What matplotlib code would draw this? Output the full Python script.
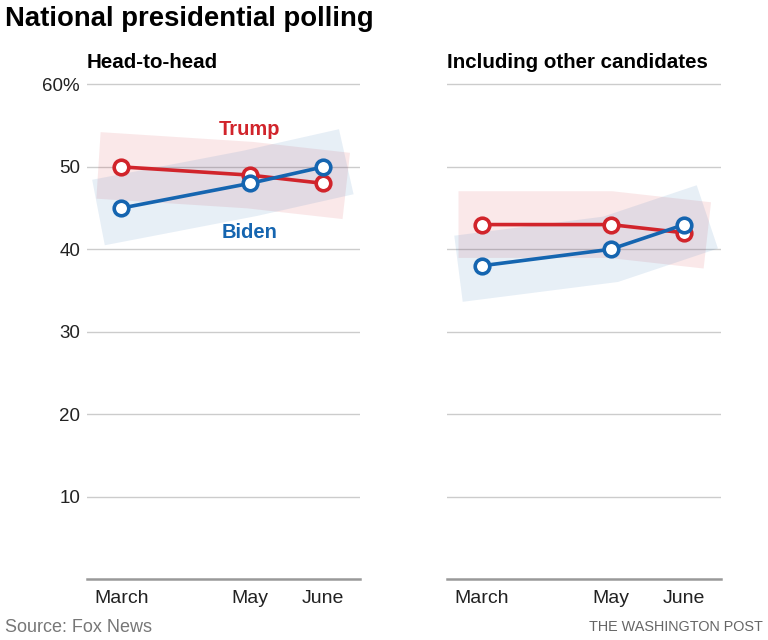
import numpy as np
import matplotlib.pyplot as plt

plt.rcParams['font.family'] = ['Liberation Sans', 'DejaVu Sans']

# poll dates as day of year (mid March, mid May, mid June)
days = [80, 136, 168]
months = ['March', 'May', 'June']

h2h_trump = [50, 49, 48]
h2h_biden = [45, 48, 50]
multi_trump = [43, 43, 42]
multi_biden = [38, 40, 43]

red = '#d1242b'
blue = '#1565b0'

fig = plt.figure(figsize=(7.68, 6.4), dpi=100)
ax1 = fig.add_axes([0.1133, 0.0953, 0.3555, 0.7766])
ax2 = fig.add_axes([0.582, 0.0953, 0.357, 0.7766])


def band(ax, x, y, color):
    # one translucent stroke following the series, a bit past both ends
    x = np.array(x, dtype=float)
    y = np.array(y, dtype=float)
    k0 = 10.0 / (x[1] - x[0])
    k1 = 10.0 / (x[-1] - x[-2])
    xs = np.concatenate([[x[0] - (x[1] - x[0]) * k0], x, [x[-1] + (x[-1] - x[-2]) * k1]])
    ys = np.concatenate([[y[0] - (y[1] - y[0]) * k0], y, [y[-1] + (y[-1] - y[-2]) * k1]])
    ax.plot(xs, ys, color=color, lw=48, alpha=0.1,
            solid_capstyle='butt', solid_joinstyle='miter', zorder=1)


def panel(ax, trump, biden, title):
    band(ax, days, trump, red)
    band(ax, days, biden, blue)
    for vals, c in [(trump, red), (biden, blue)]:
        ax.plot(days, vals, color=c, lw=2.6, marker='o', ms=10.5,
                mfc='white', mec=c, mew=2.6, zorder=3)
    ax.set_xlim(65, 184)
    ax.set_ylim(0, 60.3)
    ax.set_yticks([10, 20, 30, 40, 50, 60])
    ax.yaxis.grid(True, color='#cccccc', lw=1)
    ax.set_axisbelow(True)
    for s in ['top', 'right', 'left']:
        ax.spines[s].set_visible(False)
    ax.spines['bottom'].set_color('#999999')
    ax.spines['bottom'].set_linewidth(1.8)
    ax.set_xticks(days)
    ax.set_xticklabels(months, fontsize=14)
    ax.tick_params(axis='x', length=0, pad=8, colors='#222222')
    ax.tick_params(axis='y', length=0)
    ax.set_title(title, loc='left', fontsize=14.8, fontweight='bold', pad=10)
    ax.patch.set_alpha(0)


panel(ax1, h2h_trump, h2h_biden, 'Head-to-head')
panel(ax2, multi_trump, multi_biden, 'Including other candidates')

ax1.set_yticklabels(['10', '20', '30', '40', '50', '60%'], fontsize=13.5,
                    color='#222222')
ax1.tick_params(axis='y', pad=5)
ax2.set_yticklabels([])

ax1.text(days[1], 54.5, 'Trump', color=red, fontsize=14.5, fontweight='bold',
         ha='center', va='center')
ax1.text(days[1], 42.0, 'Biden', color=blue, fontsize=14.5, fontweight='bold',
         ha='center', va='center')

fig.text(0.007, 0.97, 'National presidential polling', fontsize=19.8,
         fontweight='bold', va='center', ha='left')
fig.text(0.007, 0.02, 'Source: Fox News', fontsize=13, color='#777777',
         va='center', ha='left')
fig.text(0.993, 0.02, 'THE WASHINGTON POST', fontsize=10.4, color='#666666',
         va='center', ha='right')

fig.savefig('out.png', dpi=100)
